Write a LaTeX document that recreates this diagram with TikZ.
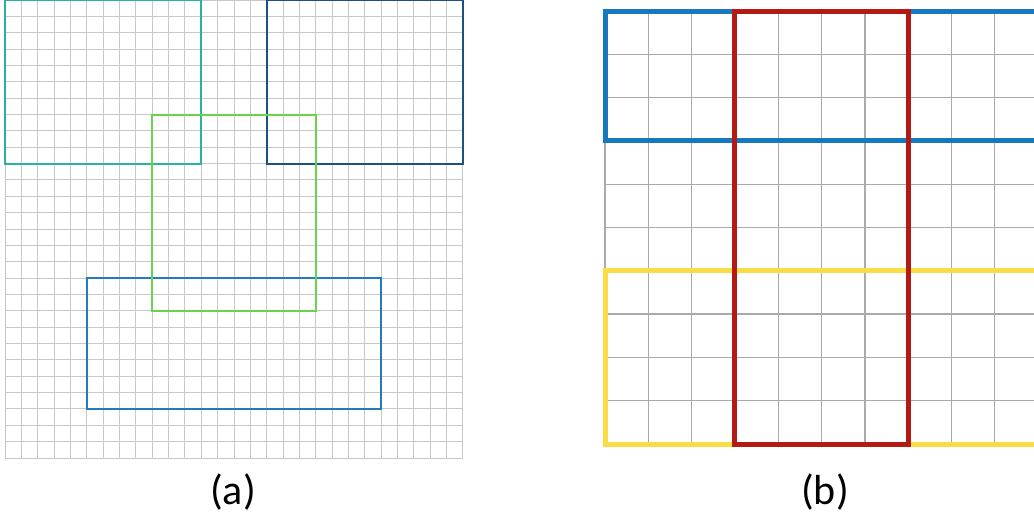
\documentclass[tikz,border=0pt]{standalone}
\usepackage{fontspec}
\setmainfont{Carlito}
\usepackage{tikz}
\usetikzlibrary{positioning}
\usepackage{xcolor}
\definecolor{gridgray}{RGB}{200,200,200}
\definecolor{gridgrayb}{RGB}{170,170,170}
\definecolor{boxteal}{RGB}{40,178,160}
\definecolor{boxnavy}{RGB}{28,82,128}
\definecolor{boxgreen}{RGB}{105,212,75}
\definecolor{boxblue}{RGB}{36,122,190}
\definecolor{bandblue}{RGB}{22,120,190}
\definecolor{bandred}{RGB}{180,26,20}
\definecolor{bandyellow}{RGB}{250,220,70}

\begin{document}
\begin{tikzpicture}[x=1pt,y=-1pt]
  \useasboundingbox[fill=white] (0,0) rectangle (1034,523);
  % (a) 28x28 grid with four windows
  \begin{scope}[shift={(5,0)},x=16.357pt,y=-16.357pt]
    \draw[gridgray,line width=1pt,xstep=16.357pt,ystep=16.357pt] (0,0) grid (28,28);
    \draw[boxteal,line width=2pt] (0,0) rectangle (12,10);
    \draw[boxnavy,line width=2pt] (16,0) rectangle (28,10);
    \draw[boxblue,line width=2pt] (5,17) rectangle (23,25);
    \draw[boxgreen,line width=2pt] (9,7) rectangle (19,19);
  \end{scope}
  % (b) 10x10 grid, cut at the right
  \begin{scope}
    \clip (0,0) rectangle (1034,523);
    \begin{scope}[shift={(605,11)},x=43.3pt,y=-43.3pt]
      \draw[gridgrayb,line width=1.4pt,xstep=43.3pt,ystep=43.3pt] (0,0) grid (10,10);
      \draw[bandblue,line width=5pt] (0,0) rectangle (10,3);
      \draw[bandyellow,line width=5pt] (0,6) rectangle (10,10);
      \draw[bandred,line width=5pt] (3,0) rectangle (7,10);
    \end{scope}
  \end{scope}
  \node[font=\fontsize{42}{50}\selectfont] (laba) at (233,492) {(a)};
  \node[font=\fontsize{42}{50}\selectfont] (labb) at (825,492) {(b)};
\end{tikzpicture}
\end{document}
